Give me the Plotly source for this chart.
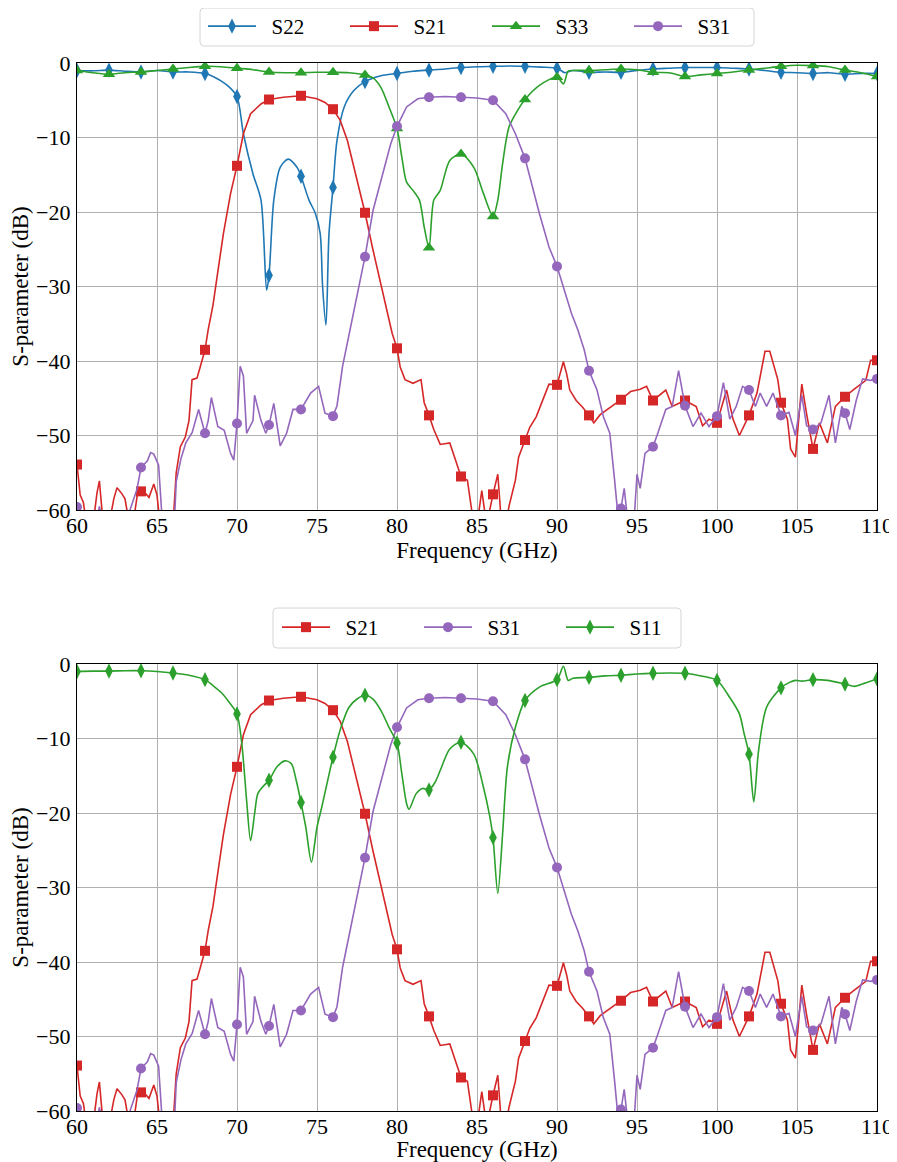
import plotly.graph_objects as go

# ---------------- data (frequency GHz, dB) ----------------
s22_points = [(60, -1.0), (61, -1.05), (62, -0.95), (63, -1.1), (64, -1.2), (65, -1.0), (66, -1.2), (67, -1.2),
              (68, -1.4), (68.5, -1.8), (69, -2.4), (69.5, -3.2), (70, -4.5), (70.4, -9.5), (71, -14.9), (71.5, -18.4),
              (71.85, -30.5), (72, -28.5), (72.3, -18.4), (72.7, -14.0), (73.2, -12.9), (73.75, -14.0), (74, -15.2),
              (74.5, -18.4), (74.9, -20.2), (75.2, -22.9), (75.35, -30.0), (75.56, -35.2), (75.75, -22.9), (76, -16.7),
              (76.25, -10.4), (76.7, -5.9), (77.3, -3.7), (78, -2.5), (79, -1.7), (80, -1.4), (81, -1.1), (82, -0.95),
              (83, -0.8), (84, -0.6), (85, -0.5), (86, -0.45), (87, -0.4), (88, -0.45), (89, -0.55), (90, -0.7),
              (90.5, -1.3), (91, -1.0), (92, -1.25), (93, -1.2), (94, -1.25), (95, -1.0), (96, -0.8), (97, -0.7),
              (98, -0.6), (99, -0.6), (100, -0.6), (101, -0.7), (102, -0.8), (103, -1.0), (104, -1.25), (105, -1.3),
              (106, -1.4), (107, -1.3), (108, -1.5), (109, -1.4), (110, -1.4)]

s33_points = [(60, -1.0), (61, -1.3), (62, -1.5), (63, -1.3), (64, -1.2), (65, -1.0), (66, -0.8), (67, -0.6),
              (68, -0.45), (69, -0.5), (70, -0.7), (71, -0.9), (72, -1.2), (73, -1.3), (74, -1.3), (75, -1.25),
              (76, -1.25), (77, -1.3), (78, -1.6), (78.5, -2.0), (79, -3.3), (79.5, -5.9), (80, -8.8), (80.3, -12.6),
              (80.6, -16.0), (81, -17.1), (81.4, -18.4), (81.7, -22.0), (82, -24.8), (82.3, -18.4), (82.7, -17.1),
              (83.3, -13.1), (84, -12.2), (84.8, -14.0), (85.4, -17.5), (86, -20.6), (86.3, -18.4), (86.6, -13.5),
              (87, -8.6), (87.5, -6.5), (88, -4.9), (88.9, -3.0), (90, -1.9), (90.4, -2.8), (90.7, -1.1), (91, -1.0),
              (92, -1.0), (93, -0.9), (94, -0.8), (95, -0.9), (96, -1.25), (97, -1.3), (98, -1.8), (99, -1.6),
              (100, -1.4), (101, -1.2), (102, -0.95), (103, -0.7), (104, -0.45), (105, -0.3), (106, -0.35),
              (107, -0.5), (108, -0.95), (109, -1.3), (110, -1.8)]

s21_points = [(60, -53.9), (60.2, -58.0), (60.4, -59.0), (60.6, -62.0), (61.0, -62.0), (61.25, -57.7), (61.4, -56.1),
              (61.6, -61.0), (62, -62.0), (62.3, -58.5), (62.5, -57.0), (62.8, -57.8), (63.0, -58.5), (63.2, -61.0),
              (63.5, -62.0), (63.8, -57.5), (64, -57.5), (64.3, -57.8), (64.5, -58.3), (64.8, -56.5), (65.0, -58.0),
              (65.2, -62.0), (65.6, -65.0), (66.0, -62.0), (66.2, -55.0), (66.46, -51.5), (66.77, -50.2), (67.0, -48.0),
              (67.19, -42.5), (67.5, -42.3), (67.7, -40.8), (68, -38.5), (68.2, -35.8), (68.5, -32.5), (68.85, -27.3),
              (69.15, -22.9), (69.6, -17.5), (70, -13.8), (70.4, -9.5), (70.85, -6.8), (71.5, -5.5), (72, -4.9),
              (72.9, -4.6), (74, -4.4), (75, -4.8), (75.5, -5.3), (76, -6.2), (76.45, -7.7), (76.9, -10.4),
              (77.3, -14.0), (78, -20.1), (78.5, -25.1), (79.2, -31.5), (79.7, -36.3), (80, -38.3), (80.2, -40.8),
              (80.5, -42.5), (81.0, -43.0), (81.5, -42.5), (81.7, -45.6), (82, -47.3), (82.3, -49.2), (82.7, -51.2),
              (83.3, -51.0), (84, -55.5), (84.4, -56.0), (84.7, -60.5), (85.0, -62.0), (85.3, -57.4), (85.6, -62.0),
              (86, -57.9), (86.3, -55.2), (86.5, -61.0), (86.8, -62.0), (87.0, -59.5), (87.4, -56.0), (87.6, -52.9),
              (88, -50.6), (88.3, -48.9), (88.7, -47.5), (89.1, -45.3), (89.5, -43.1), (90, -43.2), (90.4, -40.1),
              (90.6, -41.7), (90.8, -43.9), (91.2, -45.3), (91.6, -46.2), (92, -47.3), (92.3, -48.3), (92.7, -47.2),
              (93.3, -46.3), (94, -45.2), (94.6, -44.1), (95.2, -43.8), (95.6, -43.4), (96, -45.3), (96.8, -43.9),
              (97.2, -46.1), (98, -45.3), (98.7, -46.1), (99.1, -48.7), (99.5, -47.8), (100, -48.3), (100.6, -43.9),
              (101.0, -47.8), (101.4, -50.0), (102, -47.3), (102.5, -44.3), (103.0, -38.7), (103.3, -38.7),
              (103.8, -42.5), (104, -45.6), (104.4, -47.8), (104.6, -51.8), (104.9, -52.9), (105.3, -43.1),
              (105.6, -47.1), (106, -51.8), (106.4, -48.3), (106.9, -51.0), (107.4, -46.1), (108, -44.8),
              (108.5, -43.9), (109, -43.1), (109.3, -42.6), (109.6, -39.9), (110, -39.9)]

s31_points = [(60, -59.6), (60.2, -62.0), (61.2, -62.0), (61.4, -59.5), (61.6, -62.0), (62, -63.0), (63.0, -62.0),
              (63.3, -60.0), (63.75, -57.2), (64, -54.3), (64.4, -53.4), (64.6, -52.3), (64.8, -52.5), (65.1, -54.0),
              (65.3, -60.5), (65.7, -65.0), (66, -63.0), (66.1, -61.0), (66.2, -56.2), (66.5, -53.1), (66.8, -51.0),
              (67.2, -49.6), (67.6, -46.5), (68, -49.7), (68.2, -48.0), (68.4, -44.9), (68.8, -48.8), (69.2, -49.3),
              (69.6, -52.4), (69.8, -53.3), (70, -48.4), (70.2, -40.7), (70.4, -42.0), (70.6, -49.7), (71.0, -48.0),
              (71.1, -44.6), (71.5, -48.0), (71.8, -49.7), (72, -48.6), (72.3, -45.7), (72.7, -51.4), (73.1, -49.7),
              (73.5, -46.5), (74, -46.5), (74.6, -44.3), (75.1, -43.4), (75.5, -47.0), (76, -47.4), (76.25, -46.0),
              (76.6, -40.7), (76.9, -37.5), (77.3, -33.5), (77.6, -30.0), (78, -26.0), (78.5, -19.8), (79.2, -14.0),
              (79.6, -10.9), (80, -8.5), (80.6, -5.9), (81.3, -4.8), (82, -4.6), (83, -4.5), (84, -4.6), (85, -4.7),
              (86, -5.0), (86.8, -6.8), (87.4, -9.5), (88, -12.8), (88.9, -20.2), (89.5, -24.7), (90, -27.3),
              (90.25, -29.1), (90.6, -31.5), (90.9, -33.6), (91.3, -35.8), (91.7, -38.5), (92, -41.3), (92.5, -43.9),
              (92.9, -47.5), (93.3, -49.7), (93.6, -56.0), (93.8, -60.5), (94, -59.8), (94.2, -57.1), (94.4, -61.0),
              (94.8, -62.0), (95.0, -55.2), (95.2, -57.1), (95.5, -52.4), (96, -51.5), (96.3, -49.7), (96.8, -46.5),
              (97.2, -46.1), (97.6, -41.3), (98, -46.0), (98.5, -48.8), (99.0, -47.0), (99.5, -48.8), (100, -47.4),
              (100.4, -42.9), (100.8, -47.8), (101.2, -46.1), (101.6, -43.4), (102, -43.9), (102.4, -46.1),
              (102.7, -44.3), (103.1, -46.1), (103.5, -44.3), (104, -47.3), (104.5, -46.9), (104.9, -50.0),
              (105.3, -44.6), (105.6, -48.7), (106, -49.2), (106.5, -48.3), (107.0, -44.6), (107.4, -51.0),
              (107.8, -46.1), (108, -47.0), (108.3, -49.2), (108.7, -45.3), (109.1, -42.4), (109.6, -42.6), (110, -42.4)]

s11_points = [(60, -1.0), (61, -0.95), (62, -0.95), (63, -0.9), (64, -0.9), (65, -1.0), (66, -1.2), (67, -1.5),
              (68, -2.1), (68.5, -2.9), (69, -3.8), (69.5, -5.1), (70, -6.7), (70.3, -10.7), (70.6, -18.3),
              (70.85, -23.7), (71.1, -20.1), (71.3, -17.4), (71.6, -16.5), (72, -15.6), (72.5, -13.8), (73, -13.0),
              (73.4, -13.4), (73.7, -15.6), (74, -18.6), (74.3, -21.9), (74.65, -26.6), (75, -21.9), (75.3, -19.2),
              (76, -12.5), (76.5, -8.5), (77, -5.8), (77.5, -4.7), (78, -4.2), (78.5, -4.7), (79, -6.25), (79.5, -8.5),
              (80, -10.6), (80.3, -14.7), (80.6, -18.75), (80.75, -19.5), (81.2, -17.4), (81.6, -16.7), (82, -16.9),
              (82.4, -15.8), (82.7, -14.3), (83.3, -11.4), (84, -10.5), (84.8, -12.1), (85.4, -16.5), (85.8, -20.5),
              (86, -23.3), (86.3, -30.8), (86.6, -22.8), (86.9, -13.8), (87.4, -8.5), (88, -4.9), (88.9, -3.1),
              (90, -2.1), (90.4, -0.3), (90.7, -2.2), (91, -1.9), (92, -1.8), (93, -1.6), (94, -1.5), (95, -1.35),
              (96, -1.25), (97, -1.2), (98, -1.25), (99, -1.6), (100, -2.2), (100.8, -4.5), (101.4, -6.7),
              (101.7, -9.4), (102, -12.1), (102.3, -18.5), (102.6, -11.6), (103.1, -5.8), (104, -3.2), (104.5, -2.5),
              (104.9, -2.2), (105.3, -2.3), (106, -2.1), (106.9, -2.2), (108, -2.7), (108.6, -3.0), (109.2, -2.6),
              (110, -2.0)]

x_ticks = [60, 65, 70, 75, 80, 85, 90, 95, 100, 105, 110]
y_ticks = [-60, -50, -40, -30, -20, -10, 0]

BLUE, RED, GREEN, PURPLE = "#1f77b4", "#d62728", "#2ca02c", "#9467bd"
FONT = "Liberation Serif"
GAP = "\u2002"  # spacing between legend sample and its label

fig = go.Figure()


def add_series(points, name, color, symbol, msize, xa, ya, legend, shape="linear"):
    xs = [p[0] for p in points]
    ys = [p[1] for p in points]
    mx = [p[0] for p in points if float(p[0]).is_integer() and int(p[0]) % 2 == 0]
    my = [p[1] for p in points if float(p[0]).is_integer() and int(p[0]) % 2 == 0]
    fig.add_trace(go.Scatter(x=xs, y=ys, mode="lines", line=dict(color=color, width=1.6, shape=shape,
                                                                 smoothing=0.8),
                             xaxis=xa, yaxis=ya, showlegend=False, hoverinfo="skip"))
    fig.add_trace(go.Scatter(x=mx, y=my, mode="markers", marker=dict(color=color, symbol=symbol, size=msize),
                             xaxis=xa, yaxis=ya, showlegend=False, cliponaxis=True))
    fig.add_trace(go.Scatter(x=[None], y=[None], mode="lines+markers", name=GAP + name,
                             line=dict(color=color, width=1.6),
                             marker=dict(color=color, symbol=symbol, size=msize),
                             xaxis=xa, yaxis=ya, legend=legend))


# top panel
add_series(s22_points, "S22", BLUE, "diamond-tall", 11, "x", "y", "legend", "spline")
add_series(s21_points, "S21", RED, "square", 10, "x", "y", "legend")
add_series(s33_points, "S33", GREEN, "triangle-up", 11, "x", "y", "legend", "spline")
add_series(s31_points, "S31", PURPLE, "circle", 10, "x", "y", "legend")
# bottom panel
add_series(s21_points, "S21", RED, "square", 10, "x2", "y2", "legend2")
add_series(s31_points, "S31", PURPLE, "circle", 10, "x2", "y2", "legend2")
add_series(s11_points, "S11", GREEN, "diamond-tall", 11, "x2", "y2", "legend2", "spline")

# page body adds an 8 px offset; figure is sized so the window shows it like the reference
OFF = 8
W, H = 897 - OFF, 1162 - OFF
L, R = 77 - OFF, 20
PW = W - L - R


def yd(top_px, bot_px):
    return [1 - (bot_px - OFF) / H, 1 - (top_px - OFF) / H]


def px_x(win_x):
    return (win_x - OFF - L) / PW


def px_y(win_y):
    return 1 - (win_y - OFF) / H


def rounded_box(x0w, y0w, x1w, y1w, r=4):
    x0, x1 = px_x(x0w), px_x(x1w)
    yt, yb = px_y(y0w), px_y(y1w)
    rx, ry = r / PW, r / H
    return (f"M{x0 + rx},{yt} L{x1 - rx},{yt} Q{x1},{yt} {x1},{yt - ry} L{x1},{yb + ry} "
            f"Q{x1},{yb} {x1 - rx},{yb} L{x0 + rx},{yb} Q{x0},{yb} {x0},{yb + ry} "
            f"L{x0},{yt - ry} Q{x0},{yt} {x0 + rx},{yt} Z")


axis_common = dict(showline=True, linecolor="black", linewidth=1.3, mirror=True,
                   showgrid=True, gridcolor="#b0b0b0", gridwidth=1, automargin=False,
                   ticks="", zeroline=False,
                   tickfont=dict(family=FONT, size=22, color="black"))

xcommon = dict(axis_common, range=[60, 110], tickvals=x_ticks, ticklabelstandoff=-5,
               title=dict(text="Frequency (GHz)", font=dict(family=FONT, size=23, color="black"), standoff=2))
ycommon = dict(axis_common, range=[-60, 0], tickvals=y_ticks, ticklabelstandoff=1,
               title=dict(text="S-parameter (dB)", font=dict(family=FONT, size=23, color="black"), standoff=8))

legend_common = dict(orientation="h", xanchor="left", yanchor="top",
                     borderwidth=0, bgcolor="rgba(0,0,0,0)",
                     font=dict(family=FONT, size=21, color="black"), itemwidth=48, entrywidth=79)

BOX = "#d6d6d6"
fig.update_layout(
    width=W, height=H,
    margin=dict(l=L, r=R, t=0, b=0, autoexpand=False),
    paper_bgcolor="white", plot_bgcolor="white",
    font=dict(family=FONT, color="black"),
    xaxis=dict(xcommon, domain=[0, 1], anchor="y"),
    yaxis=dict(ycommon, domain=yd(63, 510), anchor="x"),
    xaxis2=dict(xcommon, domain=[0, 1], anchor="y2"),
    yaxis2=dict(ycommon, domain=yd(664, 1111), anchor="x2"),
    legend=dict(legend_common, x=px_x(203), y=px_y(6)),
    legend2=dict(legend_common, x=px_x(277), y=px_y(607)),
    showlegend=True,
    shapes=[
        dict(type="path", xref="paper", yref="paper", path=rounded_box(200, 8, 754, 46),
             line=dict(color=BOX, width=1), fillcolor="white", layer="above"),
        dict(type="path", xref="paper", yref="paper", path=rounded_box(273, 608, 681, 648),
             line=dict(color=BOX, width=1), fillcolor="white", layer="above"),
    ],
)

fig.write_html("out.html")
